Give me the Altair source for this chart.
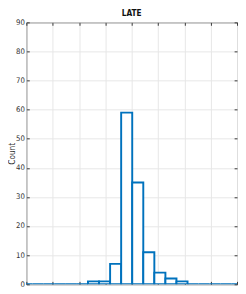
import altair as alt
import pandas as pd

# histogram data
bin_start = -0.18
bin_width = 0.42
counts = [0, 0, 0, 0, 0, 0, 1, 1, 7, 59, 35, 11, 4, 2, 1, 0, 0, 0, 0, 0]
x_ticks = [0, 1, 2, 3, 4, 5, 6, 7, 8]
y_ticks = [0, 10, 20, 30, 40, 50, 60, 70, 80, 90]
title_text = "LATE"
y_title = "Count"

df = pd.DataFrame({
    "x0": [bin_start + i * bin_width for i in range(len(counts))],
    "x1": [bin_start + (i + 1) * bin_width for i in range(len(counts))],
    "count": counts,
})

FONT = "Liberation Sans Narrow, DejaVu Sans Condensed, Liberation Sans, sans-serif"
BLUE = "#0072BD"
AX = "#333333"

xs = alt.Scale(domain=[0, 8], nice=False, zero=False)
ys = alt.Scale(domain=[0, 90], nice=False)

bars = alt.Chart(df).mark_rect(
    fill="white", stroke=BLUE, strokeWidth=2, clip=True
).encode(
    x=alt.X("x0:Q", scale=xs, axis=alt.Axis(
        orient="bottom", values=x_ticks, labels=False, title=None, domain=False,
        grid=True, gridColor="#e6e6e6", gridWidth=1,
        ticks=True, tickSize=3, offset=-3, tickColor=AX, tickWidth=1)),
    x2="x1:Q",
    y=alt.Y("count:Q", scale=ys, axis=alt.Axis(
        orient="left", values=y_ticks, title=y_title, domain=False,
        grid=True, gridColor="#e6e6e6", gridWidth=1,
        ticks=True, tickSize=3, offset=-3, tickColor=AX, tickWidth=1,
        labelFont=FONT, labelFontSize=8, labelColor=AX, labelPadding=2,
        titleFont=FONT, titleFontSize=8.5, titleFontWeight="normal",
        titleColor=AX, titleX=-13, titleBaseline="bottom")),
    y2=alt.Y2(datum=0),
)

top_axis = alt.Chart(df).mark_rect(opacity=0).encode(
    x=alt.X("x0:Q", scale=xs, axis=alt.Axis(
        orient="top", values=x_ticks, labels=False, title=None, domain=False,
        grid=False, ticks=True, tickSize=3, offset=-3, tickColor=AX, tickWidth=1)),
    y=alt.Y("count:Q", scale=ys, axis=alt.Axis(
        orient="right", values=y_ticks, labels=False, title=None, domain=False,
        grid=False, ticks=True, tickSize=3, offset=-3, tickColor=AX, tickWidth=1)),
)

chart = alt.layer(bars, top_axis).resolve_axis(
    x="independent", y="independent"
).properties(
    width=218, height=271,
    title=alt.TitleParams(title_text, font=FONT, fontSize=8.5, fontWeight="bold",
                          color="#111111", anchor="middle", offset=1),
    padding={"left": 19, "top": 10, "right": 1, "bottom": 0},
    autosize=alt.AutoSizeParams(type="none"),
).configure_view(
    stroke="#444444", strokeWidth=1
)

chart.save("out.html", embed_options={"renderer": "svg", "actions": False})
